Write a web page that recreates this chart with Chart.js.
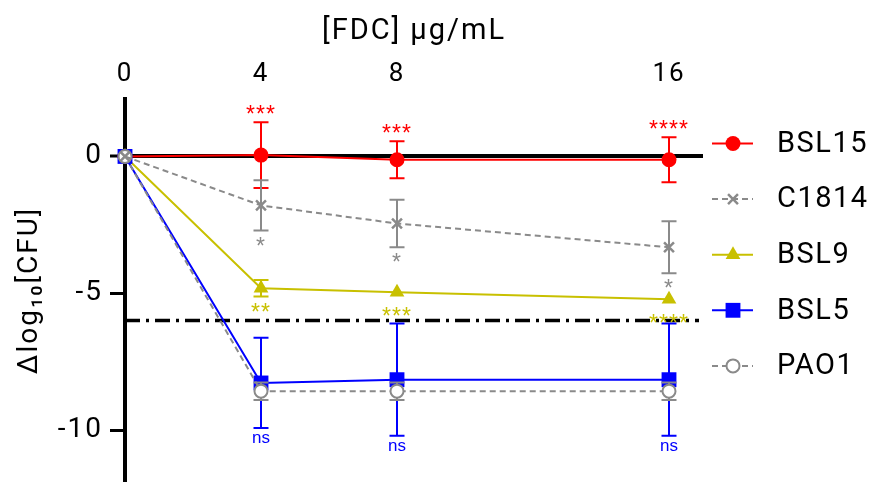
<!DOCTYPE html>
<html>
<head>
<meta charset="utf-8">
<script src="https://cdn.jsdelivr.net/npm/chart.js@4.4.0/dist/chart.umd.min.js"></script>
<style>
html, body { margin: 0; padding: 0; background: #fff; overflow: hidden; }
</style>
</head>
<body>
<canvas id="myChart" width="871" height="482"></canvas>
<script>
// concentrations and axis ticks
const doses = [0, 4, 8, 16];
const xTicks = [0, 4, 8, 16];
const yTicks = [0, -5, -10];
const detectionLimit = -6;

// mean, error and significance per strain
const bsl15 = [0, 0.05, -0.12, -0.12];
const bsl15Err = [0, 1.2, 0.68, 0.82];
const bsl15Sig = ['', '***', '***', '****'];

const c1814 = [0, -1.79, -2.45, -3.32];
const c1814Err = [0, 0.92, 0.87, 0.95];
const c1814Sig = ['', '*', '*', '*'];

const bsl9 = [0, -4.82, -4.96, -5.22];
const bsl9Err = [0, 0.3, 0, 0];
const bsl9Sig = ['', '**', '***', '****'];

const bsl5 = [0, -8.28, -8.16, -8.16];
const bsl5Err = [0, 1.65, 2.05, 2.05];
const bsl5Sig = ['', 'ns', 'ns', 'ns'];

const pao1 = [0, -8.58, -8.58, -8.58];
const pao1Err = [0, 0.32, 0.32, 0.32];
const pao1Sig = ['', '', '', ''];

const RED = '#ff0000', GREY = '#8a8a8a', OLIVE = '#c8c000', BLUE = '#0000ff';

Chart.defaults.font.family = 'Roboto, "DejaVu Sans", sans-serif';
Chart.defaults.color = '#000';

function pts(vals) {
    return doses.map((d, i) => ({x: d, y: vals[i]}));
}

const datasets = [
    {label: 'BSL15', data: pts(bsl15), errors: bsl15Err, sig: bsl15Sig, sigAbove: true,
     borderColor: RED, backgroundColor: RED, pointStyle: 'circle', pointRadius: 7.5,
     pointBorderWidth: 0, order: 5},
    {label: 'C1814', data: pts(c1814), errors: c1814Err, sig: c1814Sig, sigAbove: false,
     borderColor: GREY, backgroundColor: GREY, borderDash: [6, 4], pointStyle: 'crossRot',
     pointRadius: 7, pointBorderWidth: 2.5, order: 1},
    {label: 'BSL9', data: pts(bsl9), errors: bsl9Err, sig: bsl9Sig, sigAbove: false,
     borderColor: OLIVE, backgroundColor: OLIVE, pointStyle: 'triangle', pointRadius: 8.5,
     pointBorderWidth: 0, order: 4},
    {label: 'BSL5', data: pts(bsl5), errors: bsl5Err, sig: bsl5Sig, sigAbove: false,
     borderColor: BLUE, backgroundColor: BLUE, pointStyle: 'rect', pointRadius: 10.5,
     pointBorderWidth: 0, order: 3},
    {label: 'PAO1', data: pts(pao1), errors: pao1Err, sig: pao1Sig, sigAbove: false,
     borderColor: GREY, backgroundColor: '#fff', borderDash: [6, 4], pointStyle: 'circle',
     pointRadius: 6.5, pointBorderWidth: 2, order: 2}
];
datasets.forEach(ds => {
    ds.borderWidth = 2;
    ds.tension = 0;
    ds.fill = false;
    ds.clip = false;
    ds.pointBorderColor = ds.borderColor;
    ds.pointBackgroundColor = ds.backgroundColor;
});

// wider tracking for axis text (the original font is a wide DIN-like face)
const tracking = {
    id: 'tracking',
    beforeDraw(chart) {
        chart.ctx.letterSpacing = '2px';
    }
};

// vertical error bars, drawn under each dataset's own line and markers
const errorBars = {
    id: 'errorBars',
    beforeDatasetDraw(chart, args) {
        const ds = chart.data.datasets[args.index];
        const ctx = chart.ctx;
        const y = chart.scales.y;
        const cap = 7.5;
        ctx.save();
        ctx.strokeStyle = ds.borderColor;
        ctx.lineWidth = 2;
        ctx.setLineDash([]);
        args.meta.data.forEach((pt, i) => {
            const e = ds.errors[i];
            if (!e) return;
            const v = ds.data[i].y;
            const top = y.getPixelForValue(v + e);
            const bot = y.getPixelForValue(v - e);
            ctx.beginPath();
            ctx.moveTo(pt.x, top); ctx.lineTo(pt.x, bot);
            ctx.moveTo(pt.x - cap, top); ctx.lineTo(pt.x + cap, top);
            ctx.moveTo(pt.x - cap, bot); ctx.lineTo(pt.x + cap, bot);
            ctx.stroke();
        });
        ctx.restore();
    }
};

// dash-dot detection limit
const limitLine = {
    id: 'limitLine',
    beforeDatasetsDraw(chart) {
        const {ctx, chartArea} = chart;
        const py = chart.scales.y.getPixelForValue(detectionLimit);
        ctx.save();
        ctx.strokeStyle = '#000';
        ctx.lineWidth = 3.5;
        ctx.setLineDash([15, 6, 3, 6]);
        ctx.beginPath();
        ctx.moveTo(chartArea.left, py);
        ctx.lineTo(chartArea.right - 4, py);
        ctx.stroke();
        ctx.restore();
    }
};

// significance marks above / below the error bars
const sigLabels = {
    id: 'sigLabels',
    afterDatasetsDraw(chart) {
        const ctx = chart.ctx;
        const y = chart.scales.y;
        ctx.save();
        chart.data.datasets.forEach((ds, di) => {
            const meta = chart.getDatasetMeta(di);
            meta.data.forEach((pt, i) => {
                const txt = ds.sig[i];
                if (!txt) return;
                const v = ds.data[i].y, e = ds.errors[i];
                const ns = txt === 'ns';
                ctx.font = ns ? '17px "Liberation Sans Narrow", "Liberation Sans"' : '23px "Liberation Sans"';
                ctx.letterSpacing = ns ? '0px' : '1px';
                ctx.fillStyle = ds.borderColor;
                ctx.textAlign = 'center';
                ctx.textBaseline = 'alphabetic';
                const m = ctx.measureText(txt);
                let base;
                if (ds.sigAbove) {
                    const top = Math.min(y.getPixelForValue(v + e), pt.y - ds.pointRadius);
                    base = top - 8 - m.actualBoundingBoxDescent;
                } else {
                    const bot = Math.max(y.getPixelForValue(v - e), pt.y + ds.pointRadius);
                    base = bot + 6 + m.actualBoundingBoxAscent;
                }
                ctx.fillText(txt, pt.x, base);
            });
        });
        ctx.restore();
    }
};

// legend on the right: line sample + marker + name
const sideLegend = {
    id: 'sideLegend',
    afterDraw(chart) {
        const ctx = chart.ctx;
        const x0 = 712, x1 = 753, xm = 733, xt = 777;
        const yStart = 143.5, gap = 55.6;
        ctx.save();
        chart.data.datasets.forEach((ds, i) => {
            const yy = yStart + i * gap;
            ctx.strokeStyle = ds.borderColor;
            ctx.lineWidth = 2;
            ctx.setLineDash(ds.borderDash || []);
            ctx.beginPath();
            ctx.moveTo(x0, yy); ctx.lineTo(x1, yy);
            ctx.stroke();
            ctx.setLineDash([]);
            ctx.fillStyle = ds.pointBackgroundColor;
            ctx.strokeStyle = ds.pointBorderColor;
            ctx.lineWidth = ds.pointBorderWidth;
            Chart.helpers.drawPoint(ctx, {
                pointStyle: ds.pointStyle,
                radius: ds.pointRadius,
                rotation: 0,
                borderWidth: ds.pointBorderWidth
            }, xm, yy);
            ctx.fillStyle = '#000';
            ctx.font = '29px Roboto, "DejaVu Sans"';
            ctx.letterSpacing = '1.5px';
            ctx.textAlign = 'left';
            ctx.textBaseline = 'middle';
            ctx.fillText(ds.label, xt, yy + 1);
        });
        ctx.restore();
    }
};

const ctx = document.getElementById('myChart').getContext('2d');
const myChart = new Chart(ctx, {
    type: 'line',
    data: {datasets},
    plugins: [tracking, errorBars, limitLine, sigLabels, sideLegend],
    options: {
        responsive: false,
        devicePixelRatio: 1,
        animation: false,
        events: [],
        layout: {autoPadding: false, padding: {left: 0, right: 168, top: 0, bottom: 0}},
        plugins: {legend: {display: false}, tooltip: {enabled: false}},
        scales: {
            x: {
                type: 'linear',
                position: 'top',
                min: 0,
                max: 17,
                afterBuildTicks: s => { s.ticks = xTicks.map(v => ({value: v})); },
                afterFit: s => { s.height = 99; s.paddingLeft = 0; s.paddingRight = 0; },
                grid: {display: false, drawTicks: false},
                border: {display: false},
                ticks: {color: '#000', font: {size: 26}, padding: 9, maxRotation: 0, autoSkip: false},
                title: {display: true, text: '[FDC] μg/mL', color: '#000', font: {size: 29},
                        padding: {top: 14, bottom: 0}}
            },
            y: {
                type: 'linear',
                min: -11.9,
                max: 2.1,
                afterBuildTicks: s => { s.ticks = yTicks.map(v => ({value: v})); },
                afterFit: s => { s.width = 125; s.paddingTop = 0; s.paddingBottom = 0; },
                grid: {
                    color: c => (c.tick && c.tick.value === 0) ? '#000' : 'rgba(0,0,0,0)',
                    lineWidth: c => (c.tick && c.tick.value === 0) ? 4 : 1,
                    tickColor: '#000',
                    tickWidth: 3,
                    tickLength: 15,
                    drawTicks: true
                },
                border: {display: true, color: '#000', width: 4},
                ticks: {color: '#000', font: {size: 28}, padding: 7, callback: v => v},
                title: {display: true, text: 'Δlog₁₀[CFU]', color: '#000', font: {size: 28},
                        padding: {top: 13, bottom: 0}}
            }
        }
    }
});
</script>
</body>
</html>
